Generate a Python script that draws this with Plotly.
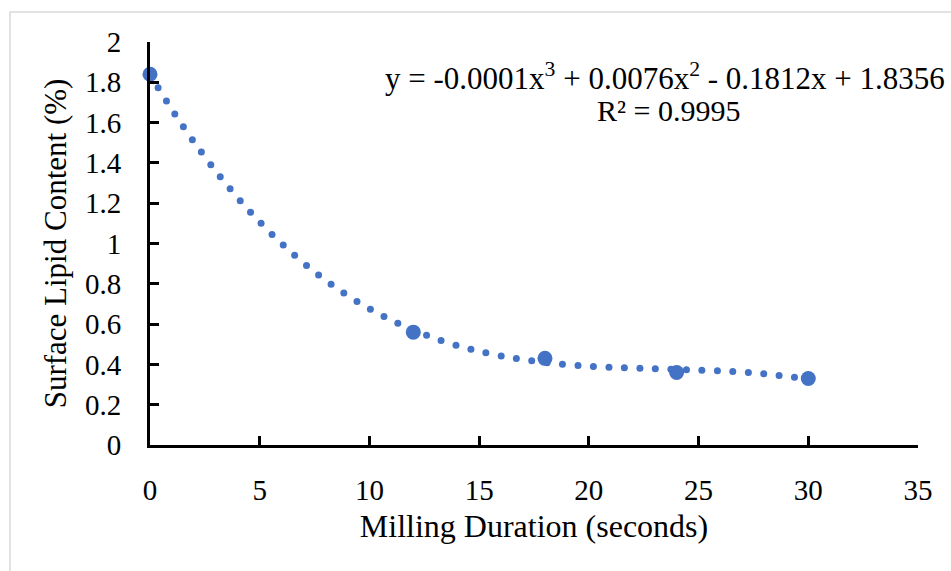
import numpy as np
import plotly.graph_objects as go

# ---- data ----
milling_seconds = [0, 12, 18, 24, 30]
lipid_content = [1.84, 0.56, 0.43, 0.36, 0.33]
x_tick_vals = [0, 5, 10, 15, 20, 25, 30, 35]
x_tick_text = ["0", "5", "10", "15", "20", "25", "30", "35"]
y_tick_vals = [0, 0.2, 0.4, 0.6, 0.8, 1.0, 1.2, 1.4, 1.6, 1.8, 2.0]
y_tick_text = ["0", "0.2", "0.4", "0.6", "0.8", "1", "1.2", "1.4", "1.6", "1.8", "2"]
equation_text = "y = -0.0001x<sup>3</sup> + 0.0076x<sup>2</sup> - 0.1812x + 1.8356"
r2_text = "R² = 0.9995"
x_title = "Milling Duration (seconds)"
y_title = "Surface Lipid Content (%)"

# ---- layout constants ----
W, H = 951, 571
ML, MR, MT, MB = 150, 33, 42, 126
PW, PH = W - ML - MR, H - MT - MB
X_RANGE = (0, 35)
Y_RANGE = (0, 2)
BLUE = "#4472C4"
FONT = "Liberation Serif, Times New Roman, serif"

# polynomial (cubic) trendline fitted to the data, shown as round dots
coef = np.polyfit(milling_seconds, lipid_content, 3)
xs = np.linspace(min(milling_seconds), max(milling_seconds), 3000)
ys = np.polyval(coef, xs)
px = (xs - X_RANGE[0]) / (X_RANGE[1] - X_RANGE[0]) * PW
py = (ys - Y_RANGE[0]) / (Y_RANGE[1] - Y_RANGE[0]) * PH
arc = np.concatenate([[0], np.cumsum(np.hypot(np.diff(px), np.diff(py)))])
step = 15.5
targets = np.arange(0, arc[-1] + 0.01, step)
idx = np.searchsorted(arc, targets).clip(0, len(xs) - 1)
dot_x, dot_y = xs[idx], ys[idx]

fig = go.Figure()
fig.add_trace(go.Scatter(
    x=milling_seconds, y=lipid_content, mode="markers",
    marker=dict(color=BLUE, size=15, line=dict(width=0)),
    showlegend=False, cliponaxis=False,
))
fig.add_trace(go.Scatter(
    x=dot_x, y=dot_y, mode="markers",
    marker=dict(color=BLUE, size=7, line=dict(width=0)),
    showlegend=False, cliponaxis=False,
))

axis_common = dict(
    showgrid=False, zeroline=False, showline=True, linecolor="black", linewidth=3,
    ticks="inside", ticklen=9, tickwidth=3, tickcolor="black",
    tickfont=dict(family=FONT, size=29, color="black"),
)
fig.update_xaxes(
    range=list(X_RANGE), tickvals=x_tick_vals, ticktext=x_tick_text,
    title=dict(text=x_title, font=dict(family=FONT, size=32, color="black"), standoff=10),
    ticklabelstandoff=17, **axis_common,
)
fig.update_yaxes(
    range=list(Y_RANGE), tickvals=y_tick_vals, ticktext=y_tick_text,
    title=dict(text=y_title, font=dict(family=FONT, size=31, color="black"), standoff=10),
    ticklabelstandoff=20, **axis_common,
)

fig.update_layout(
    width=W, height=H, autosize=False,
    margin=dict(l=ML, r=MR, t=MT, b=MB, pad=0),
    paper_bgcolor="white", plot_bgcolor="white",
    font=dict(family=FONT, color="black"),
    shapes=[dict(
        type="rect", xref="paper", yref="paper", layer="below",
        x0=(10 - ML) / PW, x1=(W + 20 - ML) / PW,
        y0=(H - MB - (H + 20)) / PH, y1=(H - MB - 12) / PH,
        line=dict(color="#d9d9d9", width=1.5), fillcolor="rgba(0,0,0,0)",
    )],
    annotations=[
        dict(text=equation_text, xref="paper", yref="paper",
             x=(383 - ML) / PW, y=(H - MB - 76) / PH, xanchor="left", yanchor="middle",
             showarrow=False, font=dict(family=FONT, size=31, color="black")),
        dict(text=r2_text, xref="paper", yref="paper",
             x=(668 - ML) / PW, y=(H - MB - 110) / PH, xanchor="center", yanchor="middle",
             showarrow=False, font=dict(family=FONT, size=30, color="black")),
    ],
)

fig.write_html("out.html")
